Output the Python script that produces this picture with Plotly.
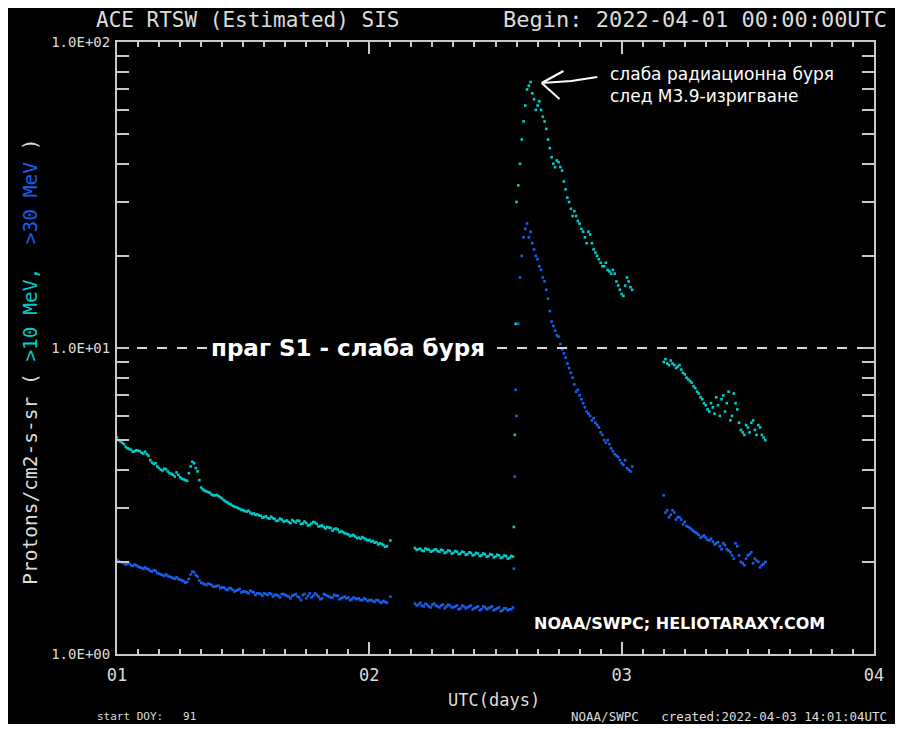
import math
import pandas as pd
import plotly.graph_objects as go

# ---------------- data ----------------
# main samples every 20 min, plus in-between samples (offset by 10 min)
SEG1_START = "2022-04-01 00:00"
SEG1_MID_START = "2022-04-01 00:10"
cyan_seg1 = [5.1, 4.95, 4.85, 4.7, 4.65, 4.6, 4.62, 4.55, 4.58, 4.45, 4.22, 4.2,
             4.05, 3.98, 4.02, 3.9, 3.85, 3.92, 3.78, 3.72, 3.68, 4.1, 4.2, 3.95,
             3.5, 3.42, 3.38, 3.32, 3.3, 3.28, 3.22, 3.15, 3.1, 3.05, 3.02, 2.98,
             2.95, 2.92, 2.9, 2.88, 2.86, 2.83, 2.8, 2.78, 2.81, 2.76, 2.73, 2.75,
             2.72, 2.7, 2.74, 2.69, 2.72, 2.67, 2.68, 2.64, 2.7, 2.66, 2.62, 2.6,
             2.6, 2.58, 2.56, 2.55, 2.52, 2.48, 2.46, 2.44, 2.42, 2.4, 2.41, 2.37,
             2.36, 2.34, 2.32, 2.3, 2.27, 2.25, 2.35]
cyan_seg1_mid = [5.0, 4.9, 4.75, 4.68, 4.58, 4.63, 4.6, 4.52, 4.5, 4.3, 4.18, 4.1,
                 4.0, 4.03, 3.95, 3.88, 3.8, 3.85, 3.74, 3.7, 3.9, 4.25, 4.05, 3.7,
                 3.45, 3.4, 3.36, 3.3, 3.31, 3.25, 3.18, 3.13, 3.08, 3.03, 3.0, 2.96,
                 2.93, 2.94, 2.87, 2.85, 2.84, 2.79, 2.82, 2.77, 2.78, 2.72, 2.77, 2.71,
                 2.73, 2.68, 2.71, 2.73, 2.66, 2.71, 2.63, 2.67, 2.69, 2.61, 2.63, 2.57,
                 2.59, 2.53, 2.57, 2.5, 2.5, 2.47, 2.43, 2.45, 2.39, 2.38, 2.39, 2.35,
                 2.33, 2.31, 2.28, 2.29, 2.24]
blue_seg1 = [2.03, 2.0, 1.98, 1.97, 1.95, 1.96, 1.93, 1.91, 1.92, 1.89, 1.86, 1.87,
             1.83, 1.81, 1.82, 1.79, 1.77, 1.78, 1.75, 1.73, 1.72, 1.82, 1.85, 1.79,
             1.71, 1.69, 1.7, 1.68, 1.66, 1.67, 1.65, 1.63, 1.64, 1.62, 1.61, 1.63,
             1.6, 1.59, 1.61, 1.59, 1.58, 1.57, 1.58, 1.56, 1.57, 1.56, 1.55, 1.57,
             1.56, 1.54, 1.55, 1.57, 1.53, 1.56, 1.52, 1.58, 1.55, 1.56, 1.51, 1.57,
             1.55, 1.53, 1.56, 1.55, 1.52, 1.54, 1.53, 1.51, 1.52, 1.52, 1.5, 1.51,
             1.5, 1.49, 1.5, 1.48, 1.49, 1.47, 1.54]
blue_seg1_mid = [2.01, 1.99, 1.96, 1.98, 1.94, 1.95, 1.92, 1.9, 1.9, 1.87, 1.88, 1.84,
                 1.82, 1.8, 1.8, 1.78, 1.76, 1.76, 1.74, 1.71, 1.76, 1.86, 1.81, 1.74,
                 1.7, 1.68, 1.69, 1.66, 1.67, 1.64, 1.65, 1.62, 1.64, 1.6, 1.62, 1.59,
                 1.6, 1.58, 1.6, 1.56, 1.58, 1.55, 1.57, 1.58, 1.54, 1.56, 1.53, 1.57,
                 1.55, 1.52, 1.56, 1.54, 1.5, 1.57, 1.55, 1.53, 1.58, 1.54, 1.52, 1.56,
                 1.54, 1.53, 1.55, 1.51, 1.53, 1.52, 1.5, 1.53, 1.51, 1.5, 1.52, 1.49,
                 1.5, 1.48, 1.5, 1.47, 1.48]

SEG2_START = "2022-04-02 04:20"
SEG2_MID_START = "2022-04-02 04:30"
cyan_seg2 = [2.22, 2.2, 2.18, 2.21, 2.19, 2.17, 2.2, 2.16, 2.18, 2.15, 2.17, 2.14,
             2.16, 2.13, 2.15, 2.12, 2.14, 2.11, 2.13, 2.1, 2.12, 2.09, 2.11, 2.08,
             2.1, 2.07, 2.09, 2.06, 2.08]
cyan_seg2_mid = [2.19, 2.21, 2.17, 2.2, 2.16, 2.19, 2.17, 2.19, 2.14, 2.18, 2.13, 2.17,
                 2.12, 2.16, 2.11, 2.15, 2.1, 2.14, 2.09, 2.13, 2.08, 2.12, 2.07, 2.11,
                 2.06, 2.1, 2.05, 2.09]
blue_seg2 = [1.46, 1.45, 1.44, 1.46, 1.43, 1.45, 1.44, 1.42, 1.45, 1.43, 1.44, 1.42,
             1.44, 1.41, 1.43, 1.42, 1.44, 1.41, 1.43, 1.4, 1.42, 1.41, 1.43, 1.4,
             1.42, 1.39, 1.41, 1.4, 1.42]
blue_seg2_mid = [1.44, 1.47, 1.43, 1.45, 1.42, 1.46, 1.43, 1.44, 1.41, 1.45, 1.42, 1.43,
                 1.4, 1.44, 1.41, 1.43, 1.4, 1.42, 1.39, 1.43, 1.4, 1.42, 1.39, 1.41,
                 1.38, 1.41, 1.39, 1.4]

EVENT_START = "2022-04-02 13:45"  # 5-min samples at the onset
cyan_event = [2.6, 5.2, 12.0]
blue_event = [1.9, 3.8, 7.3]

SEG3_START = "2022-04-02 14:00"
SEG3_MID_START = "2022-04-02 14:10"
cyan_seg3 = [30, 40, 55, 70, 74, 65, 62, 60, 55, 48, 42, 39, 40.5, 38, 33, 30, 27,
             27, 25.5, 24, 22, 23.5, 21, 20, 19, 18.5, 18, 17.5, 17.5, 16, 15, 16,
             16.5, 15.5]
cyan_seg3_mid = [34, 48, 62, 72, 68, 60, 64, 57, 52, 45, 40, 41, 39, 35, 31, 28.5, 28,
                 26, 24.5, 23, 24, 22, 20.5, 19.5, 18.5, 19, 17.8, 18, 16.5, 15.5,
                 14.8, 17, 15.8]
blue_seg3 = [6.0, 17.0, 23.0, 25.5, 24.0, 21.0, 19.5, 18.0, 16.5, 14.5, 12.2, 11.4,
             10.9, 9.9, 9.3, 8.6, 8.0, 7.2, 7.0, 6.6, 6.2, 6.0, 5.9, 5.6, 5.3, 5.0,
             5.0, 4.7, 4.5, 4.4, 4.2, 4.3, 4.0, 4.1]
blue_seg3_mid = [12, 20, 24.5, 23, 22, 20, 18.5, 17, 15.5, 13.2, 11.8, 11.0, 10.3, 9.6,
                 8.9, 8.3, 7.6, 7.3, 6.8, 6.4, 6.1, 5.8, 5.7, 5.5, 5.2, 4.9, 4.85, 4.6,
                 4.45, 4.3, 4.15, 4.05, 3.95]

SEG4_START = "2022-04-03 04:00"
SEG4_MID_START = "2022-04-03 04:10"
cyan_seg4 = [9.0, 8.9, 9.1, 8.8, 8.7, 8.5, 8.2, 7.9, 7.7, 7.4, 7.1, 6.8, 6.5, 6.2,
             6.4, 6.9, 6.0, 7.0, 6.6, 5.8, 7.1, 6.3, 5.4, 5.2, 5.5, 5.7, 5.4, 5.6,
             5.2, 5.0]
cyan_seg4_mid = [9.2, 8.8, 8.9, 8.6, 8.8, 8.3, 8.0, 7.8, 7.5, 7.2, 6.9, 6.6, 6.3, 6.6,
                 6.1, 6.5, 6.8, 6.2, 7.2, 6.0, 6.6, 5.7, 5.3, 5.6, 5.3, 5.8, 5.2, 5.5,
                 5.1]
blue_seg4 = [3.3, 2.95, 2.85, 2.9, 2.8, 2.75, 2.7, 2.6, 2.55, 2.5, 2.45, 2.42, 2.4,
             2.35, 2.33, 2.3, 2.25, 2.3, 2.2, 2.15, 2.05, 2.25, 2.0, 1.95, 2.1, 2.15,
             2.05, 2.0, 1.95, 2.0]
blue_seg4_mid = [2.9, 2.8, 2.95, 2.75, 2.8, 2.65, 2.62, 2.58, 2.52, 2.48, 2.4, 2.44,
                 2.36, 2.38, 2.28, 2.32, 2.2, 2.27, 2.18, 2.1, 2.3, 2.1, 1.98, 2.05,
                 2.12, 1.98, 2.02, 1.92, 1.97]

X_RANGE = ["2022-04-01", "2022-04-04"]
x_tick_vals = ["2022-04-01", "2022-04-02", "2022-04-03", "2022-04-04"]
x_tick_text = ["01", "02", "03", "04"]
y_tick_vals = [1, 10, 100]
y_tick_text = ["1.0E+00", "1.0E+01", "1.0E+02"]
y_minor_vals = [2, 3, 4, 5, 6, 7, 8, 9, 20, 30, 40, 50, 60, 70, 80, 90]
S1_THRESHOLD = 10

# ---------------- build series ----------------
segments = [(SEG1_START, "20min", cyan_seg1, blue_seg1),
            (SEG1_MID_START, "20min", cyan_seg1_mid, blue_seg1_mid),
            (SEG2_START, "20min", cyan_seg2, blue_seg2),
            (SEG2_MID_START, "20min", cyan_seg2_mid, blue_seg2_mid),
            (EVENT_START, "5min", cyan_event, blue_event),
            (SEG3_START, "20min", cyan_seg3, blue_seg3),
            (SEG3_MID_START, "20min", cyan_seg3_mid, blue_seg3_mid),
            (SEG4_START, "20min", cyan_seg4, blue_seg4),
            (SEG4_MID_START, "20min", cyan_seg4_mid, blue_seg4_mid)]
t_all, c_all, b_all = [], [], []
for start, freq, c, b in segments:
    t = pd.date_range(start, periods=len(c), freq=freq)
    t_all += list(t)
    c_all += c
    b_all += b

CYAN = "#00cccc"
BLUE = "#1560f0"
AXC = "#c8c8c8"
TXT = "#dcdcdc"
MONO = "DejaVu Sans Mono"
SANS = "DejaVu Sans"

fig = go.Figure()
fig.add_trace(go.Scatter(x=t_all, y=b_all, mode="markers",
                         marker=dict(symbol="square", size=2.6, color=BLUE, line=dict(width=0)),
                         hoverinfo="skip", showlegend=False))
fig.add_trace(go.Scatter(x=t_all, y=c_all, mode="markers",
                         marker=dict(symbol="square", size=2.6, color=CYAN, line=dict(width=0)),
                         hoverinfo="skip", showlegend=False))
# S1 threshold dashed line
fig.add_trace(go.Scatter(x=X_RANGE, y=[S1_THRESHOLD, S1_THRESHOLD], mode="lines",
                         line=dict(color="#d8d8d8", width=2, dash="10px,10px"),
                         hoverinfo="skip", showlegend=False))

# figure sits inside the page's 8px body margin
OFF = 8
W, H = 888, 716
L, T = 117 - OFF, 42 - OFF
PR, PB = 880 - OFF, 654 - OFF
R, B = W - PR, H - PB
PW, PH = PR - L, PB - T


def px(xr):
    return (xr - OFF - L) / PW


def py(yr):
    return (PB - (yr - OFF)) / PH


ann = []
ann.append(dict(text="ACE RTSW (Estimated) SIS", x=px(249), y=py(20), xanchor="center",
                yanchor="middle", font=dict(family=MONO, size=21, color=TXT)))
ann.append(dict(text="Begin: 2022-04-01 00:00:00UTC", x=px(895), y=py(20), xanchor="right",
                yanchor="middle", font=dict(family=MONO, size=22, color=TXT)))
ann.append(dict(text="UTC(days)", x=px(497), y=py(700), xanchor="center", yanchor="middle",
                font=dict(family=MONO, size=17, color=TXT)))
ann.append(dict(text="start DOY:\u00a0\u00a0\u00a091", x=px(95), y=py(716), xanchor="left",
                yanchor="middle", font=dict(family=MONO, size=11, color=TXT)))
ann.append(dict(text="NOAA/SWPC\u00a0\u00a0\u00a0created:2022-04-03 14:01:04UTC", x=px(895),
                y=py(716), xanchor="right", yanchor="middle",
                font=dict(family=MONO, size=12.5, color=TXT)))
ylab = ("<span style='color:%s'>Protons/cm2-s-sr\u00a0(\u00a0</span>"
        "<span style='color:%s'>&gt;10 MeV,\u00a0\u00a0</span>"
        "<span style='color:%s'>&gt;30 MeV</span>"
        "<span style='color:%s'>\u00a0)</span>") % (TXT, CYAN, BLUE, TXT)
ann.append(dict(text=ylab, x=px(30), y=py(362), textangle=-90, xanchor="center",
                yanchor="middle", font=dict(family=MONO, size=19.5, color=TXT)))
ann.append(dict(text="слаба радиационна буря<br>след M3.9-изригване", x=px(612), y=py(85),
                xanchor="left", yanchor="middle", align="left",
                font=dict(family=SANS, size=17, color="white")))
ann.append(dict(text="NOAA/SWPC; HELIOTARAXY.COM", x=px(684), y=py(623), xanchor="center",
                yanchor="middle", font=dict(family=SANS, size=16, color="white", weight="bold")))
for a in ann:
    a.update(xref="paper", yref="paper", showarrow=False)

# label on threshold line (data coords)
ann.append(dict(text="праг S1 - слаба буря", xref="x", yref="y", x="2022-04-01 22:00",
                y=math.log10(S1_THRESHOLD), xanchor="center", yanchor="middle",
                showarrow=False, bgcolor="black", borderpad=3,
                font=dict(family=SANS, size=23, color="white", weight="bold")))

# hand-drawn style open arrow pointing at the peak (paper coords)
tip = (px(545), py(83))
arrow_path = ("M %f,%f L %f,%f M %f,%f L %f,%f M %f,%f L %f,%f L %f,%f" % (
    px(567), py(71), *tip,
    px(563), py(99), *tip,
    *tip, px(575), py(81), px(601), py(77)))
fig.add_shape(type="path", xref="paper", yref="paper", path=arrow_path,
              line=dict(color="white", width=2))

fig.update_layout(
    width=W, height=H,
    margin=dict(l=L, r=R, t=T, b=B, pad=0),
    paper_bgcolor="black", plot_bgcolor="black",
    annotations=ann,
    showlegend=False,
    xaxis=dict(type="date", range=X_RANGE, showgrid=False, zeroline=False,
               showline=True, linecolor=AXC, linewidth=2, mirror="ticks",
               ticks="inside", ticklen=12, tickwidth=2, tickcolor=AXC,
               tickmode="array", tickvals=x_tick_vals, ticktext=x_tick_text,
               tickfont=dict(family=MONO, size=17, color=TXT), ticklabelstandoff=5,
               minor=dict(ticks="inside", ticklen=5, tickwidth=1.5, tickcolor=AXC,
                          dtick=7200000, showgrid=False)),
    yaxis=dict(type="log", range=[0, 2], showgrid=False, zeroline=False,
               showline=True, linecolor=AXC, linewidth=2, mirror="ticks",
               ticks="inside", ticklen=12, tickwidth=2, tickcolor=AXC,
               tickmode="array", tickvals=y_tick_vals, ticktext=y_tick_text,
               tickfont=dict(family=MONO, size=14, color=TXT), ticklabelstandoff=2,
               minor=dict(ticks="inside", ticklen=12, tickwidth=1.5, tickcolor=AXC,
                          tickmode="array", tickvals=y_minor_vals, showgrid=False)),
)

fig.write_html("out.html", config={"displayModeBar": False})
